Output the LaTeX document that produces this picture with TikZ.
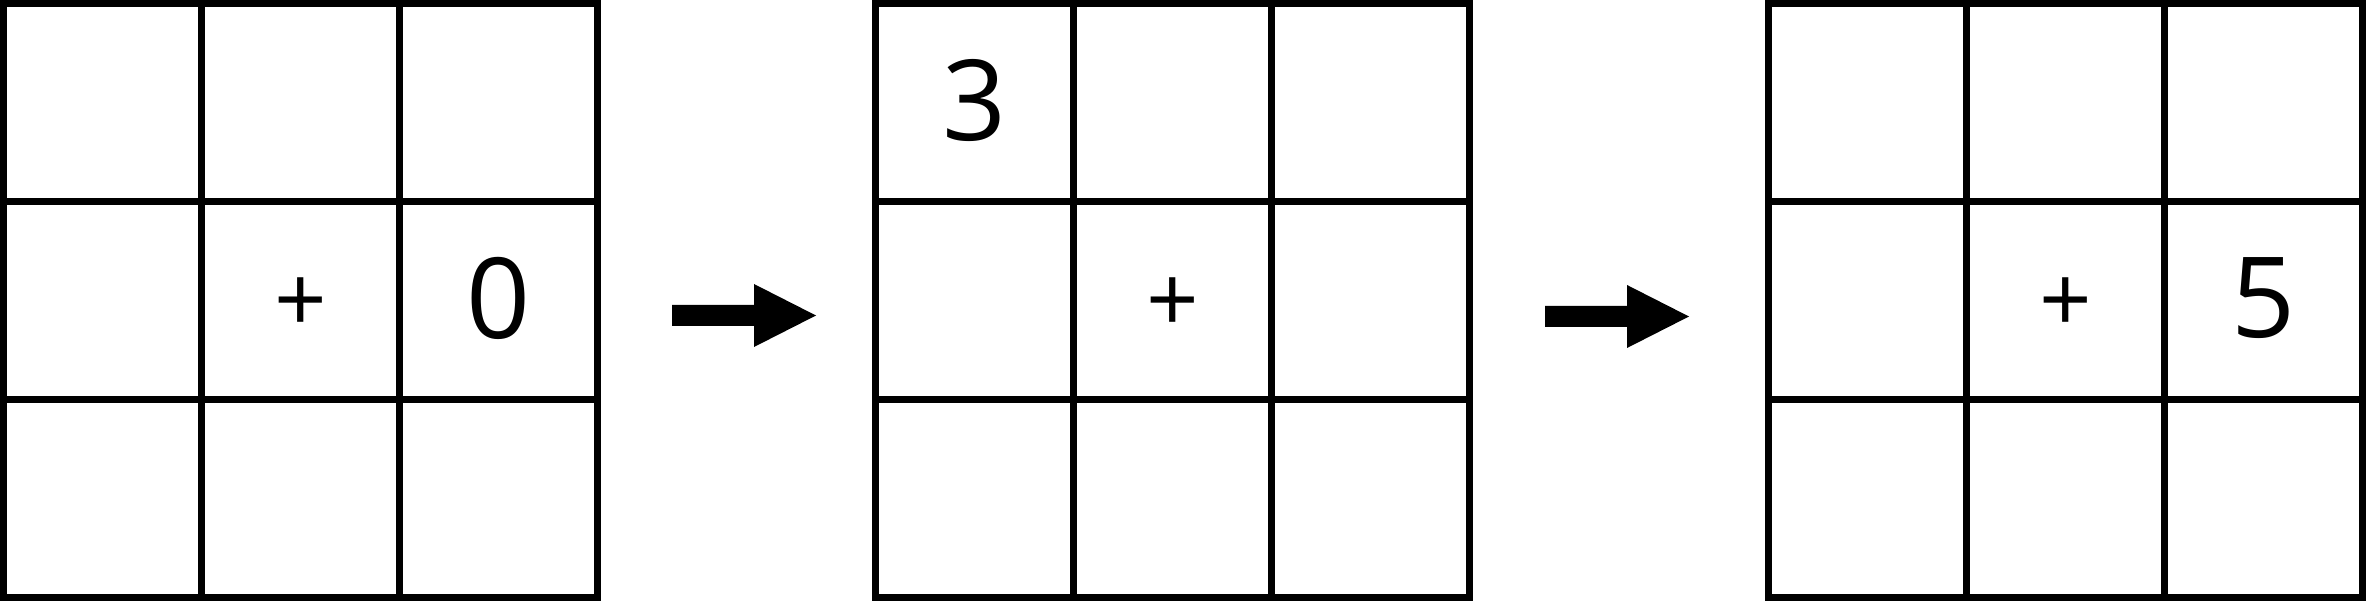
\documentclass[tikz,border=0pt]{standalone}
\usepackage{fontspec}
\setmainfont{Open Sans}
\tikzset{
  gridline/.style={line width=7pt, line join=miter, line cap=rect},
  digit/.style={inner sep=0pt, font=\fontsize{112}{112}\selectfont},
  plussign/.style={inner sep=0pt, font=\fontsize{92}{92}\selectfont},
  bigarrow/.style={fill=black, draw=none}
}
\begin{document}
\begin{tikzpicture}[x=1pt,y=-1pt]
\useasboundingbox (0,0) rectangle (2366,601);
% three grids
\foreach \g/\ox in {A/3.5, B/875.5, C/1768.5}{
  \draw[gridline] (\ox,3.5) rectangle ++(594,594);
  \draw[gridline] (\ox+198,3.5) -- ++(0,594);
  \draw[gridline] (\ox+396,3.5) -- ++(0,594);
  \draw[gridline] (\ox,201.5) -- ++(594,0);
  \draw[gridline] (\ox,399.5) -- ++(594,0);
  \coordinate (\g c) at (\ox+297,300.5);
}
% labels
\node[plussign] (plusA) at (300.5,305) {+};
\node[digit] (zeroA) at (498.5,298) {0};
\node[digit] (threeB) at (974.5,100) {3};
\node[plussign] (plusB) at (1172.5,305) {+};
\node[plussign] (plusC) at (2065.5,305) {+};
\node[digit] (fiveC) at (2263.5,298) {5};
% arrows
\fill[bigarrow] (672,305) -- (754,305) -- (754,284) -- (816,315.5) -- (754,347) -- (754,326) -- (672,326) -- cycle;
\fill[bigarrow] (1545,306) -- (1627,306) -- (1627,285) -- (1689,316.5) -- (1627,348) -- (1627,327) -- (1545,327) -- cycle;
\end{tikzpicture}
\end{document}
